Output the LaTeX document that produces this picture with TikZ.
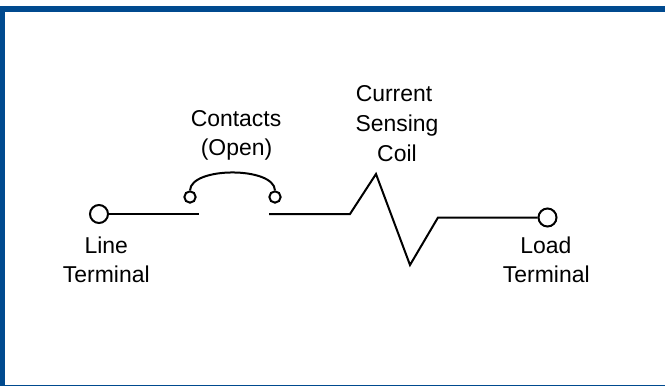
\documentclass[tikz,border=0pt]{standalone}
\usepackage{fontspec}
\setmainfont{Liberation Sans}
\definecolor{framecolor}{RGB}{0,74,143}
\tikzset{
  terminal/.style={draw,circle,line width=1.5pt,fill=white,inner sep=0pt,minimum size=13.5pt},
  contact/.style={draw,circle,line width=1.5pt,fill=white,inner sep=0pt,minimum size=8.5pt},
  wire/.style={line width=1.5pt},
  lbl/.style={font=\fontsize{17.2}{17.2}\selectfont,inner sep=0pt,anchor=base}
}
\begin{document}
\begin{tikzpicture}[x=0.75pt,y=-0.75pt]
  \useasboundingbox (0,0) rectangle (665,386);
  %% frame
  \fill[framecolor] (0,6) rectangle (665,12);
  \fill[framecolor] (0,6) rectangle (4.5,386);
  \fill[framecolor] (0,385) rectangle (665,386);
  %% wires
  \coordinate (WireA) at (199,214);
  \coordinate (WireB) at (269,214);
  \coordinate (CoilA) at (350,214);
  \coordinate (CoilB) at (376,174);
  \coordinate (CoilC) at (410,265);
  \coordinate (CoilD) at (438,217.5);
  \node[terminal] (LineT) at (99,214) {};
  \node[terminal] (LoadT) at (547.5,217.5) {};
  \node[contact] (ContactL) at (190,197) {};
  \node[contact] (ContactR) at (275,197) {};
  \draw[wire] (LineT) -- (WireA);
  \draw[wire] (WireB) -- (CoilA) -- (CoilB) -- (CoilC) -- (CoilD) -- (LoadT);
  \draw[wire] (ContactL.north) .. controls (191,166.5) and (274,166.5) .. (ContactR.north);
  %% labels
  \node[lbl] (LineA) at (106.3,253) {Line};
  \node[lbl] (LineB) at (106.3,282) {Terminal};
  \node[lbl] (ContA) at (236,126.5) {Contacts};
  \node[lbl] (ContB) at (236.5,155) {(Open)};
  \node[lbl] (SensA) at (394,101) {Current};
  \node[lbl] (SensB) at (397,131) {Sensing};
  \node[lbl] (SensC) at (397,161) {Coil};
  \node[lbl] (LoadA) at (546,253) {Load};
  \node[lbl] (LoadB) at (546.3,282) {Terminal};
\end{tikzpicture}
\end{document}
